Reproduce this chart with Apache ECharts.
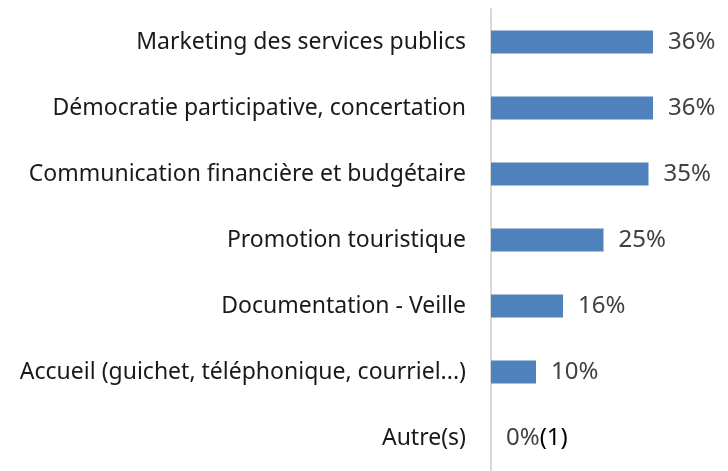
<!DOCTYPE html>
<html>
<head>
<meta charset="utf-8">
<script src="https://cdn.jsdelivr.net/npm/echarts@6/dist/echarts.min.js"></script>
<style>
  html, body { margin: 0; padding: 0; background: #fff; }
  #chart { width: 728px; height: 471px; }
</style>
</head>
<body>
<div id="chart"></div>
<script>
  var categories = [
    'Marketing des services publics',
    'Démocratie participative, concertation',
    'Communication financière et budgétaire',
    'Promotion touristique',
    'Documentation - Veille',
    'Accueil (guichet, téléphonique, courriel...)',
    'Autre(s)'
  ];
  var values = [36, 36, 35, 25, 16, 10, 0];
  var notes = ['', '', '', '', '', '', '(1)'];

  var chart = echarts.init(document.getElementById('chart'));
  var option = {
    animation: false,
    grid: { left: 491, right: 12, top: 9, bottom: 0 },
    xAxis: {
      type: 'value',
      min: 0,
      max: 50,
      show: false
    },
    yAxis: {
      type: 'category',
      inverse: true,
      data: categories,
      axisLine: { show: true, lineStyle: { color: '#d9d9d9', width: 2 } },
      axisTick: { show: false },
      axisLabel: {
        margin: 25,
        color: '#1a1a1a',
        fontSize: 23,
        fontFamily: 'Noto Sans'
      }
    },
    series: [{
      type: 'bar',
      data: values,
      barWidth: 23,
      itemStyle: { color: '#4f81bd' },
      label: {
        show: true,
        position: 'right',
        distance: 15,
        formatter: function (p) {
          var s = '{v|' + p.value + '%}';
          if (notes[p.dataIndex]) s += '{n|' + notes[p.dataIndex] + '}';
          return s;
        },
        rich: {
          v: { color: '#404040', fontSize: 24, fontFamily: 'Noto Sans' },
          n: { color: '#000', fontSize: 24, fontFamily: 'Noto Sans' }
        }
      }
    }]
  };
  chart.setOption(option);
</script>
</body>
</html>
